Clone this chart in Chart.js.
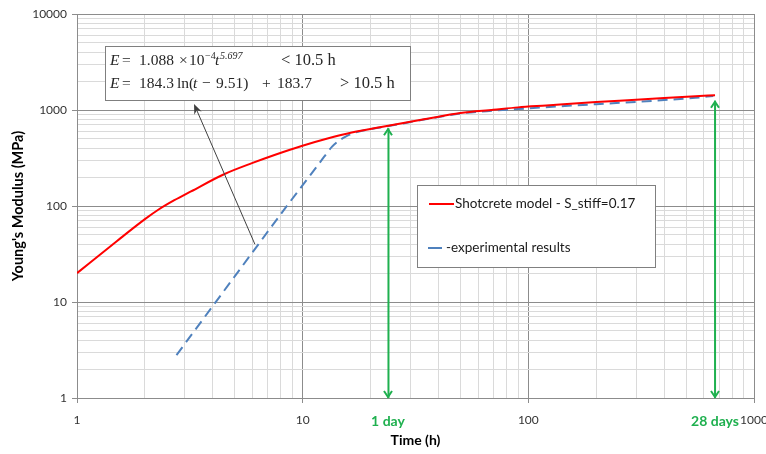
<!DOCTYPE html>
<html>
<head>
<meta charset="utf-8">
<script src="https://cdn.jsdelivr.net/npm/chart.js@4.4.1/dist/chart.umd.min.js"></script>
<style>
    html, body { margin: 0; padding: 0; background: #fff; }
    #wrap { width: 766px; height: 454px; }
</style>
</head>
<body>
<div id="wrap"><canvas id="chart" width="766" height="454"></canvas></div>
<script>
// modelo (linha vermelha)
const modelTime = [1, 1.5, 2, 2.3, 2.7, 3.2, 4.46, 6, 7.5, 9.9, 13, 16.5, 23.6, 35, 50, 70, 90, 120, 200, 300, 400, 550, 672];
const modelE = [20, 43, 73, 92, 115, 142, 213, 281, 340, 422, 508, 583, 682, 805, 930, 1005, 1065, 1115, 1210, 1280, 1335, 1390, 1425];

// resultados experimentais (tracejado azul)
const expTime = [2.76, 5, 8.4, 10, 12, 13.5, 14.5, 15.5, 17, 20, 23.6, 35, 50, 70, 100, 150, 200, 300, 400, 550, 660];
const expE = [2.8, 18.5, 96, 165, 290, 415, 480, 528, 580, 632, 675, 800, 920, 985, 1040, 1105, 1150, 1215, 1270, 1340, 1400];

// marcadores verdes (1 dia, 28 dias)
const markerTimes = [24, 672];
const markerTop = [645, 1250];
const markerLabels = ["1 day", "28 days"];

// seta cinza (t, E) origem -> ponta
const pointerFrom = [6.14, 40];
const pointerTo = [3.3, 1158];

// décadas dos eixos
const xDecades = [1, 10, 100, 1000];
const yDecades = [1, 10, 100, 1000, 10000];

const seriesLabels = ["Shotcrete model - S_stiff=0.17", "-experimental results"];

const red = "#ff0000";
const blue = "#4f81bd";
const green = "#1fb04f";
const gridMajor = "#8c8c8c";
const gridMinor = "#dadada";

function isDecade(v) {
    const l = Math.log10(v);
    return Math.abs(l - Math.round(l)) < 1e-9;
}

// ticks 1..9 de cada década
function logTicks(decades) {
    const ticks = [];
    decades.forEach((d, i) => {
        if (i === decades.length - 1) {
            ticks.push({ value: d });
            return;
        }
        for (let m = 1; m < 10; m++) ticks.push({ value: d * m });
    });
    return ticks;
}

function toPoints(xs, ys) {
    return xs.map((x, i) => ({ x: x, y: ys[i] }));
}

function gridColor(ctx) {
    return ctx.tick && isDecade(ctx.tick.value) ? gridMajor : gridMinor;
}
function tickColor(ctx) {
    return ctx.tick && isDecade(ctx.tick.value) ? gridMajor : "rgba(0,0,0,0)";
}

// desenha texto em segmentos (itálico, sobrescrito)
function drawSegments(ctx, segs, y) {
    segs.forEach((s) => {
        const size = s.sup ? 10 : (s.big ? 16.5 : 15.5);
        ctx.font = (s.it ? "italic " : "") + size + "px 'Liberation Serif'";
        ctx.fillText(s.t, s.x, s.sup ? y - 5 : y);
    });
}

const overlayPlugin = {
    id: "overlay",
    afterDraw(chart) {
        const ctx = chart.ctx;
        const xs = chart.scales.x;
        const ys = chart.scales.y;
        ctx.save();

        // pontas das setas verdes + rótulos
        markerTimes.forEach((t, i) => {
            const x = Math.round(xs.getPixelForValue(t));
            const yb = ys.getPixelForValue(1);
            const yt = ys.getPixelForValue(markerTop[i]);
            ctx.strokeStyle = green;
            ctx.lineWidth = 2;
            ctx.beginPath();
            ctx.moveTo(x - 4, yb - 7);
            ctx.lineTo(x, yb - 1);
            ctx.lineTo(x + 4, yb - 7);
            ctx.moveTo(x - 4, yt + 7);
            ctx.lineTo(x, yt + 1);
            ctx.lineTo(x + 4, yt + 7);
            ctx.stroke();
            ctx.fillStyle = green;
            ctx.font = "bold 14px Lato";
            ctx.textAlign = "center";
            ctx.textBaseline = "middle";
            ctx.fillText(markerLabels[i], x, 421);
        });

        // seta cinza
        const x0 = xs.getPixelForValue(pointerFrom[0]);
        const y0 = ys.getPixelForValue(pointerFrom[1]);
        const x1 = xs.getPixelForValue(pointerTo[0]);
        const y1 = ys.getPixelForValue(pointerTo[1]);
        const ang = Math.atan2(y1 - y0, x1 - x0);
        ctx.strokeStyle = "#404040";
        ctx.fillStyle = "#404040";
        ctx.lineWidth = 1;
        ctx.beginPath();
        ctx.moveTo(x0, y0);
        ctx.lineTo(x1 - 6 * Math.cos(ang), y1 - 6 * Math.sin(ang));
        ctx.stroke();
        ctx.beginPath();
        ctx.moveTo(x1, y1);
        ctx.lineTo(x1 - 10 * Math.cos(ang) + 4 * Math.sin(ang), y1 - 10 * Math.sin(ang) - 4 * Math.cos(ang));
        ctx.lineTo(x1 - 7 * Math.cos(ang), y1 - 7 * Math.sin(ang));
        ctx.lineTo(x1 - 10 * Math.cos(ang) - 4 * Math.sin(ang), y1 - 10 * Math.sin(ang) + 4 * Math.cos(ang));
        ctx.closePath();
        ctx.fill();

        // caixa das equações
        ctx.fillStyle = "#fff";
        ctx.fillRect(105, 46, 305, 54);
        ctx.strokeStyle = "#7f7f7f";
        ctx.strokeRect(105.5, 46.5, 305, 54);
        ctx.fillStyle = "#262626";
        ctx.textAlign = "left";
        ctx.textBaseline = "middle";
        drawSegments(ctx, [
            { t: "E", x: 110, it: true },
            { t: "=", x: 122 },
            { t: "1.088", x: 139 },
            { t: "\u00d7", x: 179 },
            { t: "10", x: 189 },
            { t: "\u22124", x: 205, sup: true },
            { t: "t", x: 215, it: true },
            { t: "5.697", x: 220, sup: true, it: true },
            { t: "< 10.5 h", x: 281, big: true },
        ], 61);
        drawSegments(ctx, [
            { t: "E", x: 110, it: true },
            { t: "=", x: 122 },
            { t: "184.3", x: 139 },
            { t: "ln(", x: 177 },
            { t: "t", x: 193, it: true },
            { t: "\u2212", x: 202 },
            { t: "9.51)", x: 216 },
            { t: "+", x: 262 },
            { t: "183.7", x: 277 },
            { t: "> 10.5 h", x: 340, big: true },
        ], 84);

        // legenda
        ctx.fillStyle = "#fff";
        ctx.fillRect(417, 185, 238, 82);
        ctx.strokeStyle = "#808080";
        ctx.strokeRect(417.5, 185.5, 238, 82);
        ctx.lineWidth = 2;
        ctx.strokeStyle = red;
        ctx.beginPath();
        ctx.moveTo(429, 204);
        ctx.lineTo(454, 204);
        ctx.stroke();
        ctx.strokeStyle = blue;
        ctx.beginPath();
        ctx.moveTo(428, 248);
        ctx.lineTo(442, 248);
        ctx.stroke();
        ctx.fillStyle = "#1a1a1a";
        ctx.font = "13.5px Lato";
        ctx.fillText(seriesLabels[0], 455, 204);
        ctx.fillText(seriesLabels[1], 446, 248);

        ctx.restore();
    },
};

const datasets = [
    {
        label: seriesLabels[0],
        data: toPoints(modelTime, modelE),
        borderColor: red,
        borderWidth: 2,
        cubicInterpolationMode: "monotone",
    },
    {
        label: seriesLabels[1],
        data: toPoints(expTime, expE),
        borderColor: blue,
        borderWidth: 2,
        borderDash: [10, 6],
        cubicInterpolationMode: "monotone",
    },
];
markerTimes.forEach((t, i) => {
    datasets.push({
        label: markerLabels[i],
        data: [{ x: t, y: 1 }, { x: t, y: markerTop[i] }],
        borderColor: green,
        borderWidth: 2,
    });
});
datasets.forEach((d) => {
    d.showLine = true;
    d.pointRadius = 0;
    d.fill = false;
});

new Chart(document.getElementById("chart"), {
    type: "scatter",
    data: { datasets: datasets },
    options: {
        responsive: false,
        animation: false,
        layout: { padding: { left: 0, right: 12, top: 14, bottom: 0 } },
        plugins: {
            legend: { display: false },
            tooltip: { enabled: false },
        },
        scales: {
            x: {
                type: "logarithmic",
                min: 1,
                max: 1000,
                afterBuildTicks: (scale) => { scale.ticks = logTicks(xDecades); },
                afterFit: (scale) => {
                    scale.height = 56;
                    scale.paddingLeft = 0;
                    scale.paddingRight = 0;
                },
                grid: { color: gridColor, tickColor: tickColor, tickLength: 5, lineWidth: 1 },
                border: { color: gridMajor },
                ticks: {
                    autoSkip: false,
                    maxRotation: 0,
                    padding: 10,
                    color: "#333",
                    font: { family: "Lato", size: 12 },
                    callback: (v) => (isDecade(v) ? String(v) : ""),
                },
                title: {
                    display: true,
                    text: "Time (h)",
                    color: "#000",
                    font: { family: "Lato", size: 14, weight: "bold" },
                    padding: { top: 0, bottom: 5 },
                },
            },
            y: {
                type: "logarithmic",
                min: 1,
                max: 10000,
                afterBuildTicks: (scale) => { scale.ticks = logTicks(yDecades); },
                afterFit: (scale) => {
                    scale.width = 77;
                    scale.paddingTop = 0;
                    scale.paddingBottom = 0;
                },
                grid: { color: gridColor, tickColor: tickColor, tickLength: 5, lineWidth: 1 },
                border: { color: gridMajor },
                ticks: {
                    autoSkip: false,
                    padding: 5,
                    color: "#333",
                    font: { family: "Lato", size: 12 },
                    callback: (v) => (isDecade(v) ? String(v) : ""),
                },
                title: {
                    display: true,
                    text: "Young's Modulus (MPa)",
                    color: "#000",
                    font: { family: "Lato", size: 14.5, weight: "bold" },
                    padding: { top: 10, bottom: 0 },
                },
            },
        },
    },
    plugins: [overlayPlugin],
});
</script>
</body>
</html>
